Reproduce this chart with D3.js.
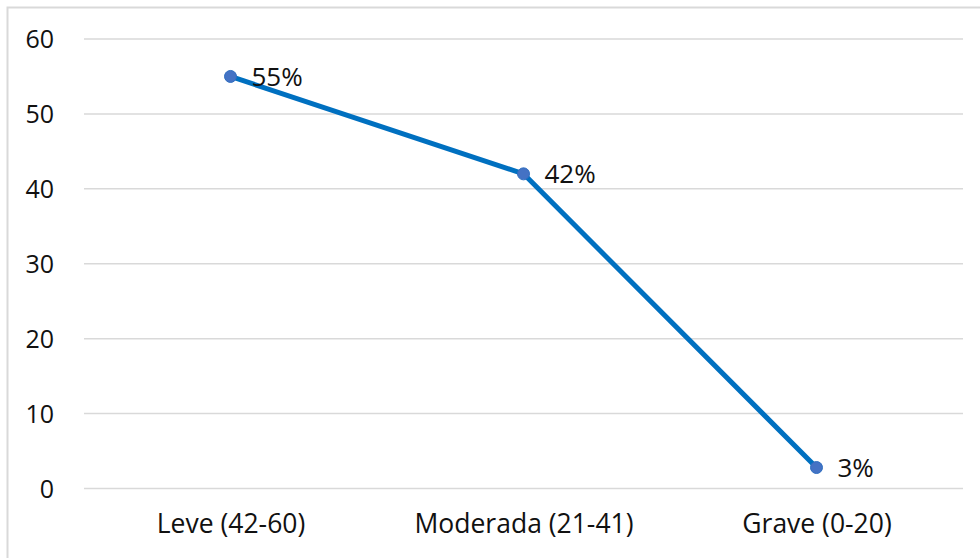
<!DOCTYPE html>
<html><head><meta charset="utf-8">
<script src="https://cdn.jsdelivr.net/npm/d3@7"></script>
<style>body{margin:0;background:#fff}svg{display:block}text{font-family:"Open Sans",sans-serif;fill:#111}</style>
</head><body>
<script>
const categories = ["Leve (42-60)", "Moderada (21-41)", "Grave (0-20)"];
const values = [55, 42, 2.8];
const labels = ["55%", "42%", "3%"];
const yTicks = [0, 10, 20, 30, 40, 50, 60];

const W = 980, H = 558;
const svg = d3.select("body").append("svg").attr("width", W).attr("height", H);
svg.append("rect").attr("x", 0).attr("y", 0).attr("width", W).attr("height", H).attr("fill", "#fff");
svg.append("rect").attr("x", 7.5).attr("y", 7.5).attr("width", W + 10).attr("height", H + 10)
  .attr("fill", "none").attr("stroke", "#d9d9d9").attr("stroke-width", 2);

const x = d3.scalePoint().domain(categories).range([230.5, 816.5]);
const y = d3.scaleLinear().domain([0, 60]).range([488.5, 39]);

svg.append("g").selectAll("line").data(yTicks).join("line")
  .attr("x1", 84).attr("x2", 963).attr("y1", d => y(d)).attr("y2", d => y(d))
  .attr("stroke", "#d9d9d9").attr("stroke-width", 1.5);

const yAxis = d3.axisLeft(y).tickValues(yTicks).tickSize(0).tickPadding(0);
const gy = svg.append("g").attr("transform", "translate(54,0)").call(yAxis);
gy.select(".domain").remove();
gy.selectAll("text").style("font-size", "25px").attr("fill", "#111").attr("dy", "0.35em");

const xAxis = d3.axisBottom(x).tickSize(0).tickPadding(0);
const gx = svg.append("g").attr("transform", "translate(0,512)").call(xAxis);
gx.select(".domain").remove();
gx.selectAll("text").style("font-size", "26.5px").attr("fill", "#111").attr("dy", "0.8em");

const data = categories.map((c, i) => ({c, v: values[i], l: labels[i]}));
svg.append("path").datum(data)
  .attr("d", d3.line().x(d => x(d.c)).y(d => y(d.v)))
  .attr("fill", "none").attr("stroke", "#0070C0").attr("stroke-width", 5).attr("stroke-linejoin", "round");

svg.append("g").selectAll("circle").data(data).join("circle")
  .attr("cx", d => x(d.c)).attr("cy", d => y(d.v)).attr("r", 6)
  .attr("fill", "#4472C4").attr("stroke", "#2f6ec0").attr("stroke-width", 1);

svg.append("g").selectAll("text").data(data).join("text")
  .attr("x", d => x(d.c) + 21).attr("y", d => y(d.v)).attr("dy", "0.35em")
  .style("font-size", "26px").text(d => d.l);
</script>
</body></html>
